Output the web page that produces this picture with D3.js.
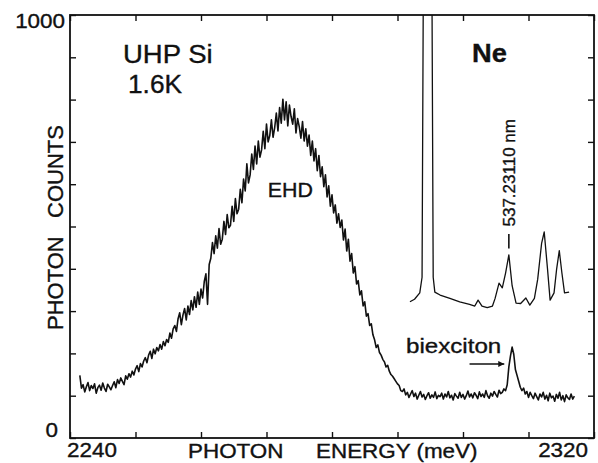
<!DOCTYPE html>
<html>
<head>
<meta charset="utf-8">
<script src="https://cdn.jsdelivr.net/npm/d3@7"></script>
<style>
  body { margin: 0; background: #fff; }
  text { font-family: "Liberation Sans", Arial, sans-serif; fill: #111; stroke: #111; stroke-width: 0.35px; }
</style>
</head>
<body>
<svg id="chart"></svg>
<script>
const ehdStart = 2241.5;
const ehdStep = 0.25;
const ehdCounts = [
  148, 118, 126, 109, 121, 131, 112, 124, 117, 128, 106, 119, 125, 113, 130, 118, 110, 127, 121, 114,
  124, 133, 119, 138, 129, 142, 134, 126, 147, 139, 152, 144, 158, 149, 163, 171, 157, 176, 168, 182,
  190, 178, 196, 205, 188, 210, 199, 214, 206, 221, 210, 228, 218, 233, 226, 248, 236, 258, 266, 252,
  282, 296, 268, 291, 306, 279, 312, 292, 325, 303, 334, 309, 345, 316, 352, 331, 370, 388, 316, 410,
  425, 462, 436, 478, 449, 495, 458, 470, 512, 481, 528, 497, 503, 548, 512, 566, 530, 541, 588, 556,
  612, 584, 648, 603, 622, 671, 635, 690, 648, 702, 664, 681, 725, 684, 742, 700, 715, 752, 711, 734,
  768, 726, 781, 744, 801, 752, 795, 738, 787, 760, 742, 778, 721, 755, 736, 709, 748, 702, 731, 690,
  716, 668, 702, 655, 684, 632, 668, 618, 641, 594, 622, 570, 596, 548, 575, 532, 551, 508, 530, 498,
  515, 468, 494, 442, 470, 418, 436, 390, 405, 364, 372, 338, 348, 312, 322, 288, 294, 266, 270, 244,
  232, 214, 220, 202, 196, 186, 180, 168, 172, 158, 150, 146, 140, 134, 128, 124, 112, 110, 116, 102,
  108, 96, 104, 112, 98, 106, 92, 101, 110, 97, 103, 91, 100, 107, 94, 102, 96, 109, 93, 101,
  98, 106, 92, 104, 97, 110, 95, 101, 90, 105, 99, 94, 108, 96, 103, 92, 100, 111, 97, 104,
  95, 107, 101, 93, 109, 98, 104, 96, 112, 100, 94, 106, 99, 110, 103, 97, 113, 105, 108, 116,
  112, 126, 168, 194, 215, 198, 162, 148, 134, 120, 112, 118, 104, 110, 96, 108, 100, 93, 106, 98,
  90, 104, 97, 108, 92, 101, 88, 106, 95, 99, 87, 103, 94, 108, 90, 100, 86, 102, 95, 91,
  104, 92, 99
];

// Ne calibration lamp spectrum [energy meV, counts]
const neonEnergy = [2291.9, 2292.6, 2293.4, 2293.75, 2293.95, 2294.6, 2295.25, 2295.45, 2295.7, 2296.5,
  2298, 2299.5, 2301, 2301.8, 2302.3, 2302.9, 2303.7, 2304.5, 2304.9, 2305.5,
  2306.0, 2306.5, 2307.0, 2307.5, 2308.1, 2308.8, 2309.6, 2310.2, 2310.9, 2311.4,
  2312.0, 2312.4, 2312.9, 2313.3, 2313.9, 2314.3, 2314.7, 2315.1, 2315.5, 2316.2];
const neonCounts = [322, 328, 343, 380, 1100, 1700, 1100, 380, 345, 338,
  330, 322, 316, 312, 326, 312, 308, 312, 330, 366,
  355, 390, 433, 360, 319, 318, 331, 314, 330, 375,
  460, 487, 400, 326, 343, 400, 443, 390, 343, 345];

const xDomain = [2240, 2320];
const yDomain = [0, 1000];
const xTickStep = 10;
const yTickStep = 100;
const xEndLabels = ["2240", "2320"];
const yEndLabels = ["0", "1000"];

const W = 598, H = 463;
const margin = { top: 15, right: 4, bottom: 25, left: 70 };

const svg = d3.select("#chart").attr("width", W).attr("height", H);

const x = d3.scaleLinear().domain(xDomain).range([margin.left, W - margin.right]);
const y = d3.scaleLinear().domain(yDomain).range([H - margin.bottom, margin.top]);

// scanned figure is a bit wider than tall, so stretch horizontal text a little
const stretch = 1.15;
function label(txt, px, py, size, opts = {}) {
  return svg.append("text")
    .attr("transform", `translate(${px},${py}) scale(${opts.sx || stretch},1)`)
    .attr("font-size", size)
    .attr("text-anchor", opts.anchor || "start")
    .attr("font-weight", opts.bold ? "bold" : "normal")
    .text(txt);
}

svg.append("clipPath").attr("id", "plotclip")
  .append("rect")
  .attr("x", x.range()[0]).attr("y", y.range()[1])
  .attr("width", x.range()[1] - x.range()[0])
  .attr("height", y.range()[0] - y.range()[1]);

// ticks (inward, all four sides)
const xTicks = d3.range(xDomain[0], xDomain[1] + 0.1, xTickStep);
const yTicks = d3.range(yDomain[0], yDomain[1] + 0.1, yTickStep);

const axes = [
  [d3.axisBottom(x).tickValues(xTicks), `translate(0,${y(0)})`],
  [d3.axisTop(x).tickValues(xTicks), `translate(0,${y(1000)})`],
  [d3.axisLeft(y).tickValues(yTicks), `translate(${x(2240)},0)`],
  [d3.axisRight(y).tickValues(yTicks), `translate(${x(2320)},0)`]
];
axes.forEach(([ax, tr]) => {
  const g = svg.append("g").attr("transform", tr)
    .call(ax.tickSize(-6).tickSizeOuter(0).tickFormat(""));
  g.select(".domain").remove();
  g.selectAll(".tick line").attr("stroke", "#111").attr("stroke-width", 1.4);
});

// frame
svg.append("rect")
  .attr("x", x(2240)).attr("y", y(1000))
  .attr("width", x(2320) - x(2240)).attr("height", y(0) - y(1000))
  .attr("fill", "none").attr("stroke", "#111").attr("stroke-width", 1.8);

// curves
const ehd = ehdCounts.map((c, i) => [ehdStart + i * ehdStep, c]);
const neon = neonEnergy.map((e, i) => [e, neonCounts[i]]);
const line = d3.line().x(d => x(d[0])).y(d => y(d[1]));

const plot = svg.append("g").attr("clip-path", "url(#plotclip)");
plot.append("path").datum(neon)
  .attr("d", line).attr("fill", "none")
  .attr("stroke", "#111").attr("stroke-width", 1.3).attr("stroke-linejoin", "round");
plot.append("path").datum(ehd)
  .attr("d", line).attr("fill", "none")
  .attr("stroke", "#111").attr("stroke-width", 1.6).attr("stroke-linejoin", "round");

// axis end labels
label(yEndLabels[1], x(2240) - 5, y(1000) + 13, 19.5, { anchor: "end" });
label(yEndLabels[0], x(2240) - 12, y(0) - 1, 19.5, { anchor: "end" });
label(xEndLabels[0], x(2240) - 3, y(0) + 19, 19.5);
label(xEndLabels[1], x(2320) - 6, y(0) + 19, 19.5, { anchor: "end" });

// axis titles
label("PHOTON", 188, 458, 19.5);
label("ENERGY (meV)", 316, 458, 19.5);
svg.append("text")
  .attr("transform", "translate(63,330) rotate(-90)")
  .attr("font-size", 22)
  .text("PHOTON");
svg.append("text")
  .attr("transform", "translate(63,218) rotate(-90)")
  .attr("font-size", 22)
  .text("COUNTS");

// annotations
label("UHP Si", 123, 63, 25, { sx: 1.1 });
label("1.6K", 128, 93, 25, { sx: 1.05 });
label("Ne", 472, 62, 26, { bold: true, sx: 1.05 });
label("EHD", x(2270.2), y(570), 20, { sx: 1.07 });
label("biexciton", 406, 353, 21);

svg.append("text")
  .attr("transform", `translate(${x(2307.0) + 6},${y(500)}) rotate(-90)`)
  .attr("font-size", 17)
  .attr("stroke-width", 0.2)
  .text("537.23110 nm");
svg.append("line")
  .attr("x1", x(2307.0)).attr("x2", x(2307.0))
  .attr("y1", y(448)).attr("y2", y(482))
  .attr("stroke", "#111").attr("stroke-width", 1.6);

// biexciton arrow
svg.append("defs").append("marker")
  .attr("id", "arrow").attr("viewBox", "0 0 10 10")
  .attr("refX", 10).attr("refY", 5)
  .attr("markerWidth", 8).attr("markerHeight", 6)
  .attr("markerUnits", "userSpaceOnUse")
  .attr("orient", "auto")
  .append("path").attr("d", "M0,0L10,5L0,10Z").attr("fill", "#111");
svg.append("line")
  .attr("x1", x(2301.0)).attr("x2", x(2306.3))
  .attr("y1", y(175)).attr("y2", y(175))
  .attr("stroke", "#111").attr("stroke-width", 1.3)
  .attr("marker-end", "url(#arrow)");
</script>
</body>
</html>
